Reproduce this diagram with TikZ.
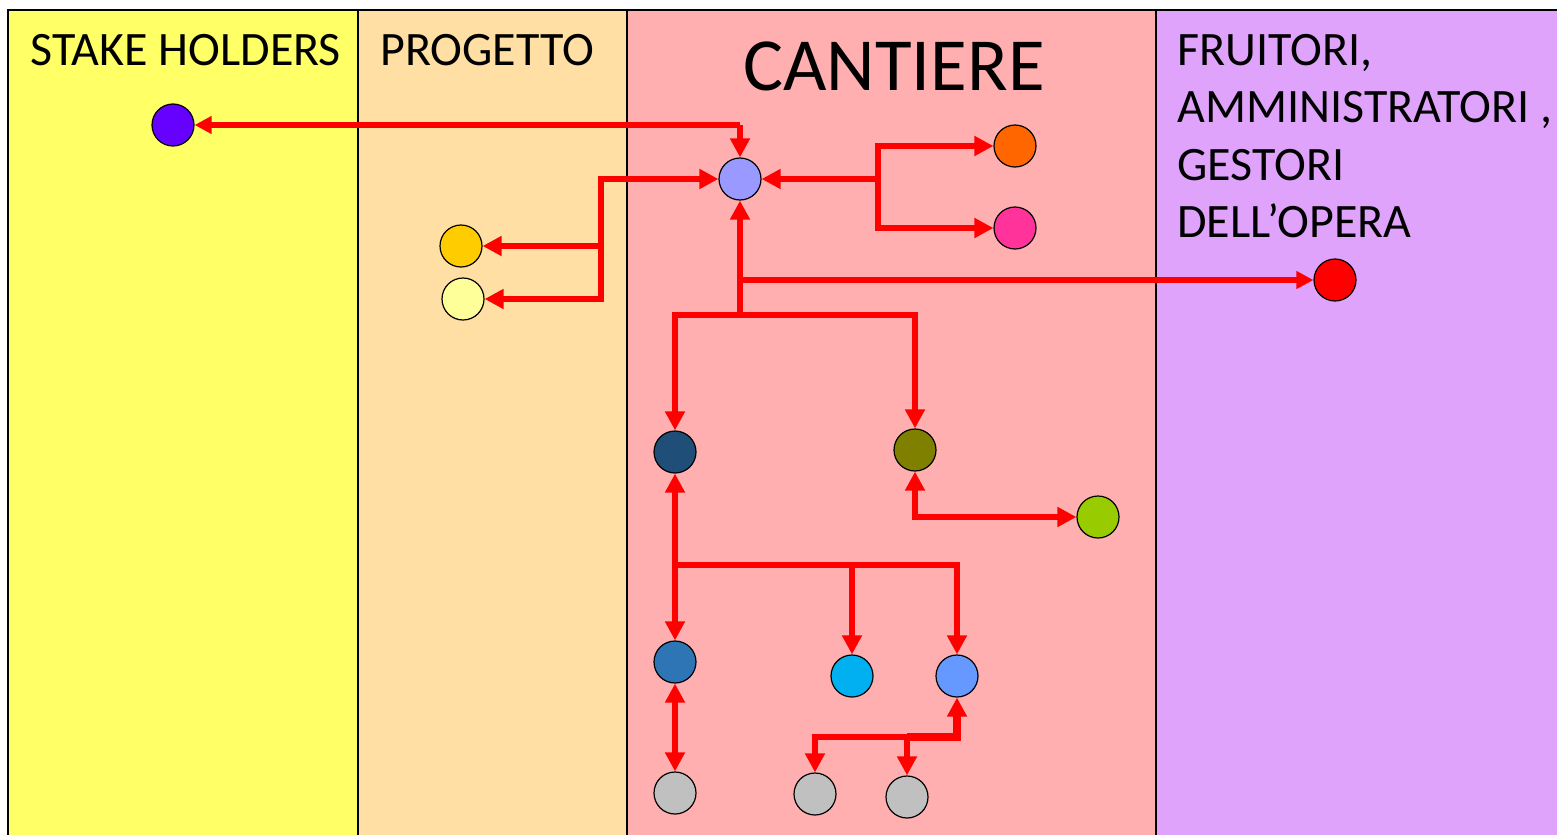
\documentclass[tikz,border=0pt]{standalone}
\usepackage{fontspec}
\setmainfont{Carlito}
\usetikzlibrary{arrows.meta}
\definecolor{pSH}{HTML}{FFFF66}
\definecolor{pPR}{HTML}{FFDFA3}
\definecolor{pCA}{HTML}{FFAFAF}
\definecolor{pFR}{HTML}{E0A3FC}
\definecolor{cSH}{HTML}{6600FF}
\definecolor{cLav}{HTML}{9999FF}
\definecolor{cOra}{HTML}{FF6600}
\definecolor{cPnk}{HTML}{FF3399}
\definecolor{cGld}{HTML}{FFCC00}
\definecolor{cLye}{HTML}{FFFF99}
\definecolor{cRed}{HTML}{FF0000}
\definecolor{cDkb}{HTML}{1F4E79}
\definecolor{cOlv}{HTML}{808000}
\definecolor{cGrn}{HTML}{99CC00}
\definecolor{cBlu}{HTML}{2E75B6}
\definecolor{cCya}{HTML}{00B0F0}
\definecolor{cCfl}{HTML}{6699FF}
\definecolor{cGry}{HTML}{C0C0C0}
\definecolor{cLine}{HTML}{FF0000}
\tikzset{
  dot/.style={circle, draw=black, line width=0.6pt, minimum size=21pt, inner sep=0pt},
  conn/.style={draw=cLine, line width=3pt, >={Triangle[length=9.5pt,width=9.5pt]}},
  thinconn/.style={draw=cLine, line width=2.7pt, >={Triangle[length=8.5pt,width=8.5pt]}},
  divider/.style={draw=black, line width=1.1pt},
  head/.style={anchor=base west, inner sep=0pt, font=\fontsize{24}{29}\selectfont},
}
\begin{document}
\begin{tikzpicture}[x=0.5pt,y=-0.5pt]
\useasboundingbox (0,0) rectangle (1557,835);
\fill[white] (0,0) rectangle (1557,835);
% panels
\fill[pSH] (8,10) rectangle (358,835);
\fill[pPR] (358,10) rectangle (627,835);
\fill[pCA] (627,10) rectangle (1156,835);
\fill[pFR] (1156,10) rectangle (1557,835);
\draw[divider] (8,835) -- (8,10) -- (1557,10);
\draw[divider] (358,10) -- (358,835);
\draw[divider] (627,10) -- (627,835);
\draw[divider] (1156,10) -- (1156,835);
% titles
\node[head] (tSH) at (30,65) {STAKE HOLDERS};
\node[head] (tPR) at (380,65) {PROGETTO};
\node[anchor=base west, inner sep=0pt, font=\fontsize{37.5}{44}\selectfont] (tCA) at (743,90) {CANTIERE};
\node[head] (tF1) at (1177,65) {FRUITORI,};
\node[head] (tF2) at (1177,122) {AMMINISTRATORI ,};
\node[head] (tF3) at (1177,180) {GESTORI};
\node[head] (tF4) at (1177,237) {DELL’OPERA};
% nodes
\node[dot, fill=cSH] (sh) at (173,125) {};
\node[dot, fill=cLav] (lav) at (740,179) {};
\node[dot, fill=cOra] (ora) at (1015,146) {};
\node[dot, fill=cPnk] (pnk) at (1015,228) {};
\node[dot, fill=cGld] (gld) at (461,246) {};
\node[dot, fill=cLye] (lye) at (463,299) {};
\node[dot, fill=cRed] (red) at (1335,280) {};
\node[dot, fill=cDkb] (dkb) at (675,452) {};
\node[dot, fill=cOlv] (olv) at (915,450) {};
\node[dot, fill=cGrn] (grn) at (1098,517) {};
\node[dot, fill=cBlu] (blu) at (675,662) {};
\node[dot, fill=cCya] (cya) at (852,676) {};
\node[dot, fill=cCfl] (cfl) at (957,676) {};
\node[dot, fill=cGry] (gr1) at (675,793) {};
\node[dot, fill=cGry] (gr2) at (815,794) {};
\node[dot, fill=cGry] (gr3) at (907,797) {};
% junction coordinates
\coordinate (jTop) at (740,125);
\coordinate (jW) at (601,179);
\coordinate (jWg) at (601,246);
\coordinate (jWb) at (601,299);
\coordinate (jE) at (878,179);
\coordinate (jEo) at (878,146);
\coordinate (jEp) at (878,228);
\coordinate (jS) at (740,315);
\coordinate (jSr) at (740,280);
\coordinate (jSl) at (675,315);
\coordinate (jSo) at (915,315);
\coordinate (jO) at (915,517);
\coordinate (jD) at (675,565);
\coordinate (jDc) at (852,565);
\coordinate (jDr) at (957,565);
\coordinate (jC) at (957,737);
\coordinate (jCl) at (815,737);
\coordinate (jCm) at (907,737);
% connectors
\draw[thinconn, <-] (sh.east) -- (jTop);
\draw[conn, ->] (jTop) -- (lav.north);
\draw[conn, <->] (lav.west) -- (jW) -- (jWb) -- (lye.east);
\draw[conn, ->] (jWg) -- (gld.east);
\draw[conn, <->] (ora.west) -- (jEo) -- (jEp) -- (pnk.west);
\draw[conn, ->] (jE) -- (lav.east);
\draw[conn, ->] (jS) -- (lav.south);
\draw[thinconn, ->] (jSr) -- (red.west);
\draw[conn, <->] (dkb.north) -- (jSl) -- (jSo) -- (olv.north);
\draw[conn, <->] (olv.south) -- (jO) -- (grn.west);
\draw[conn, ->] (jD) -- (dkb.south);
\draw[conn, <->] (blu.north) -- (jD) -- (jDr) -- (cfl.north);
\draw[conn, ->] (jDc) -- (cya.north);
\draw[conn, <->] (blu.south) -- (gr1.north);
\draw[conn, line width=3.6pt, ->] (jCm) -- (jC) -- (cfl.south);
\draw[conn, ->] (jC) -- (jCl) -- (gr2.north);
\draw[conn, ->] (jCm) -- (gr3.north);
\end{tikzpicture}
\end{document}
